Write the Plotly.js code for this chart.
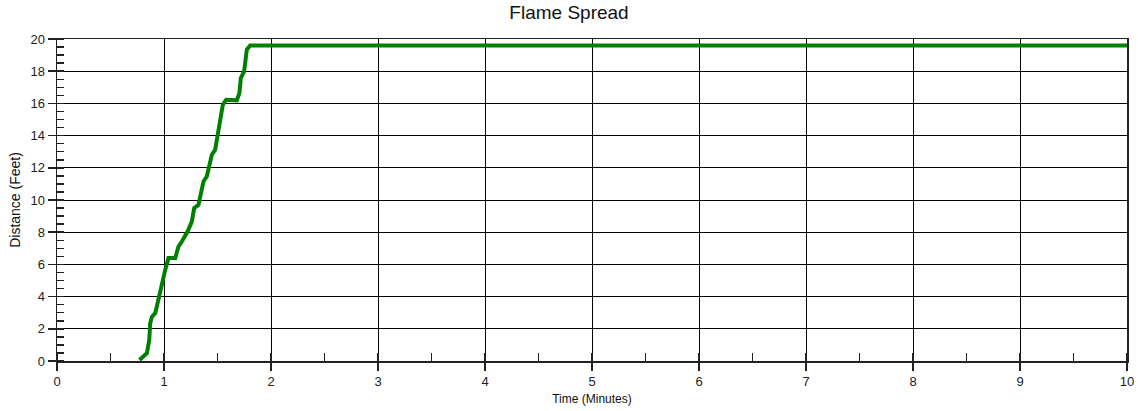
<!DOCTYPE html>
<html>
<head>
<meta charset="utf-8">
<script src="https://cdn.plot.ly/plotly-3.0.1.min.js"></script>
<style>html,body{margin:0;padding:0;background:#fff;}#chart{width:1138px;height:411px;}</style>
</head>
<body>
<div id="chart"></div>
<script>
const timeMinutes = [0.771, 0.81, 0.84, 0.862, 0.871, 0.887, 0.918, 0.94, 0.965, 0.99, 1.011, 1.042, 1.105, 1.135, 1.167, 1.22, 1.26, 1.282, 1.322, 1.345, 1.369, 1.4, 1.425, 1.447, 1.478, 1.5, 1.525, 1.55, 1.581, 1.68, 1.705, 1.718, 1.749, 1.761, 1.774, 1.805, 10];
const distanceFeet = [0.06, 0.27, 0.48, 1.3, 2.34, 2.75, 2.97, 3.59, 4.21, 5.04, 5.66, 6.39, 6.39, 7.11, 7.42, 8.04, 8.66, 9.5, 9.7, 10.43, 11.15, 11.46, 12.19, 12.81, 13.12, 13.95, 14.99, 15.92, 16.23, 16.19, 16.65, 17.58, 17.99, 18.72, 19.34, 19.59, 19.59];
const xTicks = [0,1,2,3,4,5,6,7,8,9,10];
const yTicks = [0,2,4,6,8,10,12,14,16,18,20];

const font = "Liberation Sans, Arial, sans-serif";
const axisCommon = {
  showline: true, linecolor: '#222', linewidth: 1.5, mirror: true,
  showgrid: true, gridcolor: '#000', gridwidth: 1,
  zeroline: false,
  ticks: 'outside', ticklen: 8, tickcolor: '#222', tickwidth: 1.5,
  tickfont: {family: font, size: 13, color: '#222'},
  tickmode: 'array'
};
Plotly.newPlot('chart', [{
  x: timeMinutes, y: distanceFeet, type: 'scatter', mode: 'lines',
  line: {color: 'rgb(0,128,0)', width: 4},
  hoverinfo: 'x+y'
}], {
  width: 1138, height: 411,
  margin: {l: 57, r: 11, t: 39, b: 50},
  paper_bgcolor: '#fff', plot_bgcolor: '#fff',
  showlegend: false,
  title: {text: 'Flame Spread', font: {family: font, size: 19, color: '#111'}, x: 0.5, xanchor: 'center', y: 0.985, yanchor: 'top'},
  xaxis: Object.assign({}, axisCommon, {
    range: [0, 10], tickvals: xTicks, ticktext: xTicks.map(String),
    minor: {ticks: 'inside', dtick: 0.5, tick0: 0, ticklen: 8, tickcolor: '#222', tickwidth: 1.5, showgrid: false},
    title: {text: 'Time (Minutes)', font: {family: font, size: 12, color: '#111'}, standoff: 6}
  }),
  yaxis: Object.assign({}, axisCommon, {
    range: [0, 20], tickvals: yTicks, ticktext: yTicks.map(String),
    minor: {ticks: 'inside', dtick: 0.5, tick0: 0, ticklen: 7, tickcolor: '#222', tickwidth: 1.5, showgrid: false},
    title: {text: 'Distance (Feet)', font: {family: font, size: 14, color: '#111'}, standoff: 6}
  })
}, {staticPlot: true});
</script>
</body>
</html>
